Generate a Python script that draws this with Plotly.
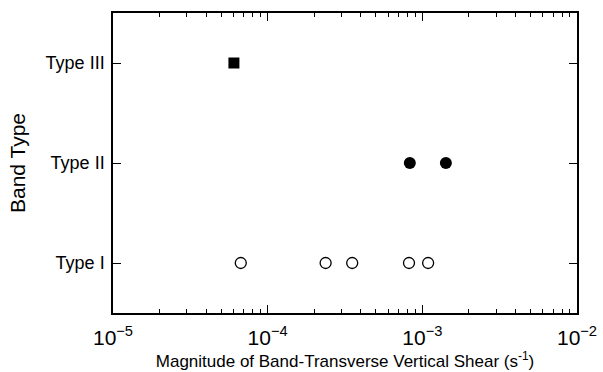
import plotly.graph_objects as go

categories = ["Type I", "Type II", "Type III"]
type1_shear = [6.7e-5, 2.37e-4, 3.52e-4, 8.2e-4, 1.09e-3]
type2_shear = [8.3e-4, 1.42e-3]
type3_shear = [6.05e-5]
x_tick_vals = [1e-5, 1e-4, 1e-3, 1e-2]
x_tick_text = ["10<sup>−5</sup>", "10<sup>−4</sup>", "10<sup>−3</sup>", "10<sup>−2</sup>"]
x_minor_vals = [m * d for d in (1e-5, 1e-4, 1e-3) for m in range(2, 10)]

fig = go.Figure()
fig.add_trace(go.Scatter(x=type1_shear, y=[1] * len(type1_shear), mode="markers",
                         marker=dict(symbol="circle-open", size=11, color="black", line=dict(width=1.3))))
fig.add_trace(go.Scatter(x=type2_shear, y=[2] * len(type2_shear), mode="markers",
                         marker=dict(symbol="circle", size=12, color="black")))
fig.add_trace(go.Scatter(x=type3_shear, y=[3] * len(type3_shear), mode="markers",
                         marker=dict(symbol="square", size=11, color="black")))

font = "Liberation Sans, Arial, sans-serif"
fig.update_layout(
    width=603, height=372,
    margin=dict(l=113, r=26, t=13, b=59),
    paper_bgcolor="white", plot_bgcolor="white",
    showlegend=False,
    font=dict(family=font, color="black"),
)
fig.update_xaxes(
    type="log", range=[-5, -2], automargin=False,
    tickmode="array", tickvals=x_tick_vals, ticktext=x_tick_text,
    ticks="inside", ticklen=8, tickwidth=1.2, tickcolor="black",
    ticklabelstandoff=5,
    minor=dict(ticks="inside", ticklen=4, tickwidth=1, tickcolor="black",
               tickmode="array", tickvals=x_minor_vals, showgrid=False),
    showline=True, linecolor="black", linewidth=1.5, mirror="ticks",
    showgrid=False, zeroline=False,
    tickfont=dict(size=21, family=font),
    title=dict(text="Magnitude of Band-Transverse Vertical Shear (s<sup>-1</sup>)",
               font=dict(size=17, family=font), standoff=0),
)
fig.update_yaxes(
    range=[0.5, 3.5], automargin=False,
    tickvals=[1, 2, 3], ticktext=categories,
    ticks="inside", ticklen=8, tickwidth=1.2, tickcolor="black",
    ticklabelstandoff=3,
    showline=True, linecolor="black", linewidth=1.5, mirror="ticks",
    showgrid=False, zeroline=False,
    tickfont=dict(size=18, family=font),
    title=dict(text="Band Type", font=dict(size=21, family=font), standoff=14),
)
fig.write_html("out.html")
